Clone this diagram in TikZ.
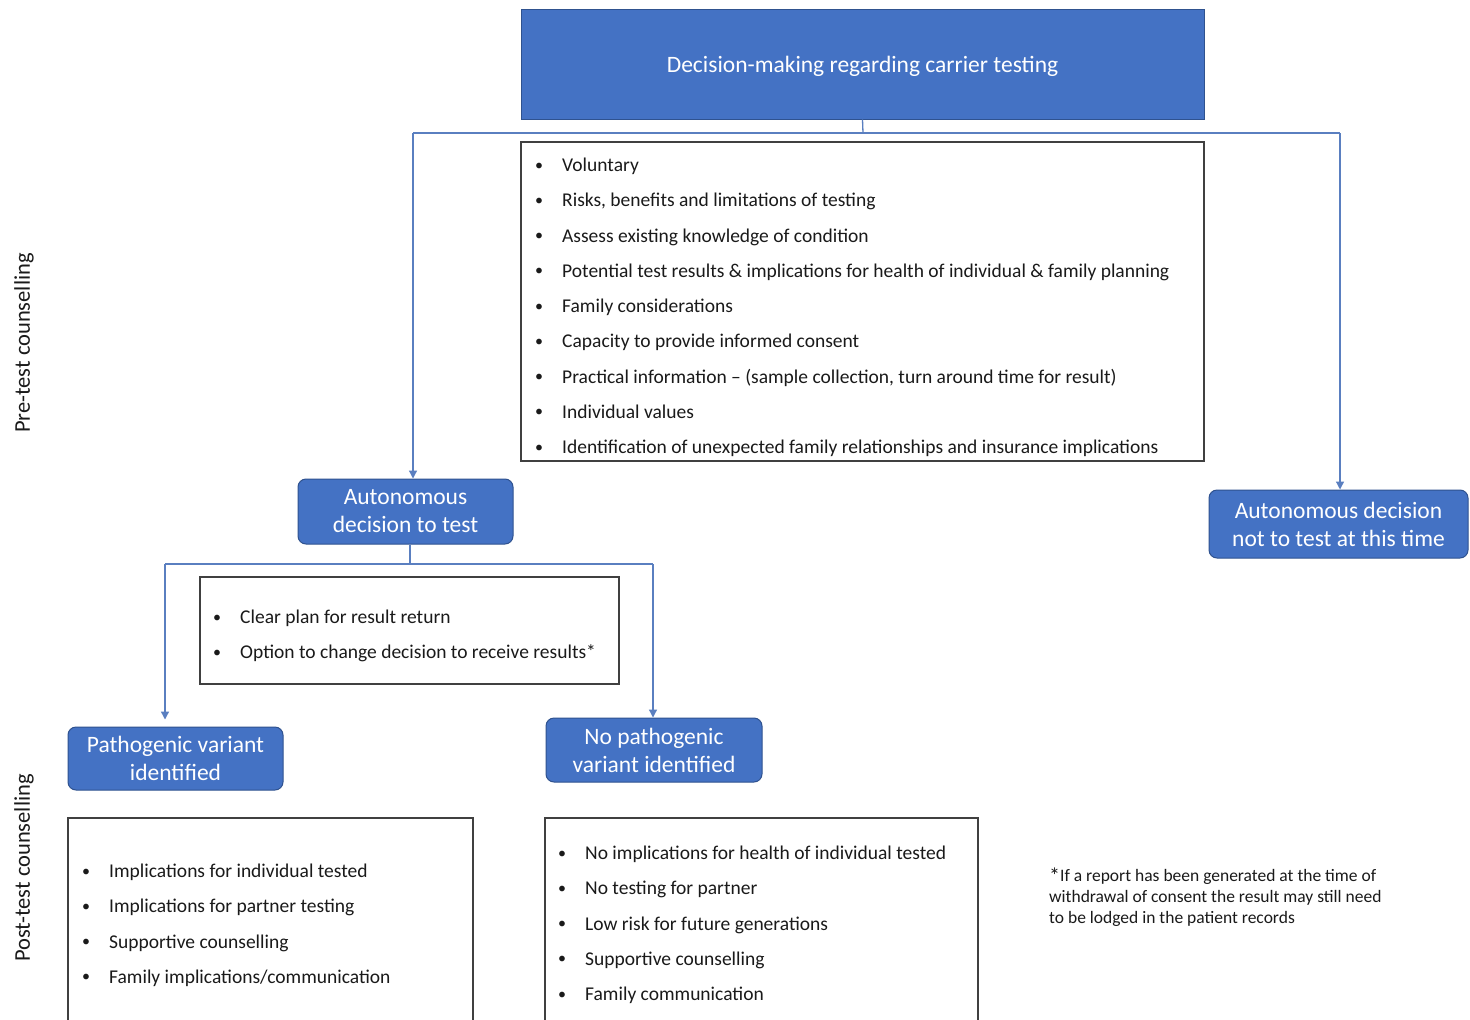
\documentclass[tikz,border=0pt]{standalone}
\usepackage{fontspec}
\setmainfont{Carlito}
\usetikzlibrary{arrows.meta}
\definecolor{boxblue}{HTML}{4472C4}
\definecolor{boxedge}{HTML}{2F528F}
\definecolor{linkblue}{HTML}{5A7FC0}
\definecolor{txt}{HTML}{1A1A1A}
\begin{document}
\begin{tikzpicture}[x=1pt,y=-1pt,
  bluebox/.style={draw=boxedge, line width=1pt, fill=boxblue, text=white, rounded corners=8pt, align=center, inner sep=0pt, font=\fontsize{23.5}{28}\selectfont},
  listbox/.style={draw=black!75, line width=1.3pt, inner sep=0pt},
  itm/.style={anchor=base west, inner sep=0pt, font=\fontsize{19.5}{22}\selectfont, text=txt},
  bul/.style={inner sep=0pt, anchor=base, font=\fontsize{16}{19}\selectfont, text=txt},
  link/.style={draw=linkblue, line width=1.3pt},
  arr/.style={link, -{Triangle[length=8pt,width=8pt]}},
  side/.style={rotate=90, inner sep=0pt, text=txt, font=\fontsize{22.5}{26}\selectfont}]
\clip (0,0) rectangle (1470,1020);
\fill[white] (0,0) rectangle (1470,1020);

% top
\node[bluebox, rounded corners=0pt, minimum width=683pt, minimum height=110pt] (top) at (862.5,64) {};
\node[text=white, inner sep=0pt, font=\fontsize{23.5}{28}\selectfont] (toptxt) at (862.5,66) {Decision-making regarding carrier testing};

% pre-test list box
\node[listbox, minimum width=683pt, minimum height=319pt] (pre) at (862.5,301.5) {};
\foreach \t [count=\i] in {Voluntary, {Risks, benefits and limitations of testing}, Assess existing knowledge of condition, Potential test results \& implications for health of individual \& family planning, Family considerations, Capacity to provide informed consent, {Practical information – (sample collection, turn around time for result)}, Individual values, Identification of unexpected family relationships and insurance implications}{
  \node[bul] (pb\i) at (539,{165+35.25*(\i-1)+5}) {•};
  \node[itm] (pt\i) at (562,{165+35.25*(\i-1)+6.5}) {\t};
}

% decision boxes
\node[bluebox, minimum width=215pt, minimum height=65pt] (adt) at (405.5,511.5) {Autonomous\\decision to test};
\node[bluebox, minimum width=259pt, minimum height=68pt] (nt) at (1338.5,524) {Autonomous decision\\not to test at this time};

% connectors top
\coordinate (j0) at (863,133);
\coordinate (jL) at (413,133);
\coordinate (jR) at (1340,133);
\draw[link] (top.south) -- (j0);
\draw[link] (jL) -- (jR);
\draw[arr] (jL) -- (jL |- adt.north);
\draw[arr] (jR) -- (jR |- nt.north);

% second list
\node[listbox, minimum width=419pt, minimum height=107pt] (mid) at (409.5,630.5) {};
\foreach \t [count=\i] in {Clear plan for result return, Option to change decision to receive results*}{
  \node[bul] (mb\i) at (217,{617+35.25*(\i-1)+5}) {•};
  \node[itm] (mt\i) at (240,{617+35.25*(\i-1)+6.5}) {\t};
}

% result boxes
\node[bluebox, minimum width=215pt, minimum height=63pt] (pv) at (175.5,758.5) {Pathogenic variant\\identified};
\node[bluebox, minimum width=216pt, minimum height=64pt] (npv) at (654,750) {No pathogenic\\variant identified};

\coordinate (k0) at (410,564);
\coordinate (kL) at (165,564);
\coordinate (kR) at (653,564);
\draw[link] (adt.south -| k0) -- (k0);
\draw[link] (kL) -- (kR);
\draw[arr] (kL) -- ([yshift=7pt]kL |- pv.north);
\draw[arr] (kR) -- (kR |- npv.north);

% post-test boxes
\node[listbox, minimum width=405pt, minimum height=232pt] (postL) at (270.5,934) {};
\foreach \t [count=\i] in {Implications for individual tested, Implications for partner testing, Supportive counselling, Family implications/communication}{
  \node[bul] (lb\i) at (86,{871+35.25*(\i-1)+5}) {•};
  \node[itm] (lt\i) at (109,{871+35.25*(\i-1)+6.5}) {\t};
}
\node[listbox, minimum width=433pt, minimum height=232pt] (postR) at (761.5,934) {};
\foreach \t [count=\i] in {No implications for health of individual tested, No testing for partner, Low risk for future generations, Supportive counselling, Family communication}{
  \node[bul] (rb\i) at (562,{853+35.25*(\i-1)+5}) {•};
  \node[itm] (rt\i) at (585,{853+35.25*(\i-1)+6.5}) {\t};
}

% footnote
\node[anchor=north west, align=left, inner sep=0pt, text=txt, font=\fontsize{17.5}{21}\selectfont] (fn) at (1049,868) {{\fontsize{22}{21}\selectfont\raisebox{-2pt}{*}}If a report has been generated at the time of\\withdrawal of consent the result may still need\\to be lodged in the patient records};

% side labels
\node[side] (prelab) at (24,343) {Pre-test counselling};
\node[side] (postlab) at (24,868) {Post-test counselling};
\end{tikzpicture}
\end{document}
